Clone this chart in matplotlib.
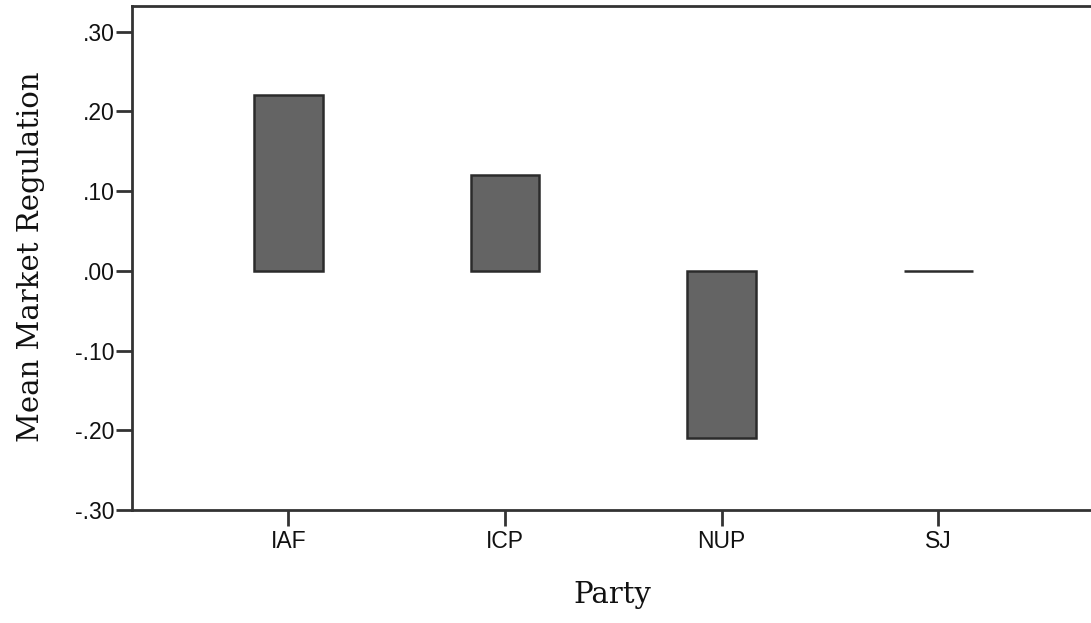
import matplotlib
matplotlib.use("Agg")
import matplotlib.pyplot as plt

# Mean market regulation by party
parties = ["IAF", "ICP", "NUP", "SJ"]
means = [0.22, 0.12, -0.21, 0.00]
yticks = [-0.30, -0.20, -0.10, 0.00, 0.10, 0.20, 0.30]
ytick_labels = ["-.30", "-.20", "-.10", ".00", ".10", ".20", ".30"]

W, H = 1091, 623
fig = plt.figure(figsize=(W / 100, H / 100), dpi=100)
# axes extends slightly past the right edge (cropped in the original)
left, right, top, bottom = 131.7, 1100, 6, 510
ax = fig.add_axes([left / W, 1 - bottom / H, (right - left) / W, (bottom - top) / H])

x = list(range(len(parties)))
ax.bar(x, means, width=0.318, color="#646464", edgecolor="#2b2b2b", linewidth=1.8)

ax.set_xlim(-0.7227, -0.7227 + (right - left) / 216.7)
ax.set_ylim(-0.30, 0.30 + (31.7 - top) / 797)

tick_font = dict(fontfamily="Liberation Sans", fontsize=16.5)
ax.set_xticks(x)
ax.set_xticklabels(parties, **tick_font)
ax.set_yticks(yticks)
ax.set_yticklabels(ytick_labels, **tick_font)

ax.tick_params(axis="both", direction="out", length=11.5, width=2, color="#333333",
               labelcolor="#111111")
ax.tick_params(axis="y", pad=1)
ax.tick_params(axis="x", pad=3)
for s in ("left", "bottom", "top"):
    ax.spines[s].set_linewidth(2)
    ax.spines[s].set_color("#333333")
ax.spines["right"].set_visible(False)

label_font = dict(fontfamily="DejaVu Serif", fontsize=21, color="#111111")
ax.set_ylabel("Mean Market Regulation", **label_font)
ax.set_xlabel("Party", **label_font)
ax.xaxis.set_label_coords((612 - left) / (right - left), -(581 - bottom) / (bottom - top))
ax.yaxis.set_label_coords(-(left - 45) / (right - left), (bottom - 257) / (bottom - top))

fig.savefig("out.png", dpi=100)
